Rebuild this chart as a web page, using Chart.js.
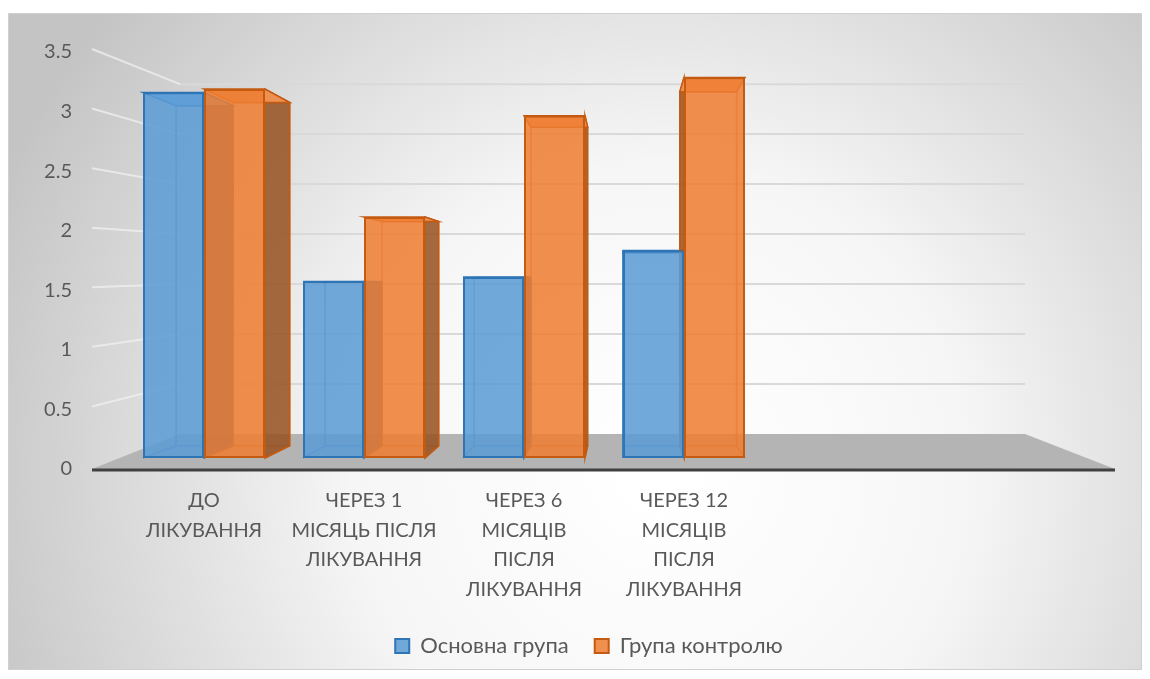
<!DOCTYPE html>
<html>
<head>
<meta charset="utf-8">
<script src="https://cdn.jsdelivr.net/npm/chart.js@4.4.0/dist/chart.umd.min.js"></script>
<style>
  html, body { margin: 0; padding: 0; background: #fff; }
</style>
</head>
<body>
<canvas id="myChart" width="1150" height="679"></canvas>
<script>
// two empty rows at the end of the source table leave blank space on the right
const categories = [
  ['ДО', 'ЛІКУВАННЯ'],
  ['ЧЕРЕЗ 1', 'МІСЯЦЬ ПІСЛЯ', 'ЛІКУВАННЯ'],
  ['ЧЕРЕЗ 6', 'МІСЯЦІВ', 'ПІСЛЯ', 'ЛІКУВАННЯ'],
  ['ЧЕРЕЗ 12', 'МІСЯЦІВ', 'ПІСЛЯ', 'ЛІКУВАННЯ'],
  '',
  ''
];
const mainGroup = [3.17, 1.53, 1.57, 1.8, null, null];
const controlGroup = [3.2, 2.09, 2.97, 3.3, null, null];
const seriesNames = ['Основна група', 'Група контролю'];
const yTicks = [0, 0.5, 1, 1.5, 2, 2.5, 3, 3.5];
const yTickLabels = ['0', '0.5', '1', '1.5', '2', '2.5', '3', '3.5'];

const FONT = 'Lato, "Noto Sans", sans-serif';
const TEXT = '#595959';

// fake 3D: walls, floor and the hidden faces of the bars
const depth = {
  id: 'depth',
  afterLayout(chart) {
    // legend is centred on the whole frame, not on the padded box
    chart.legend.left += 32;
    chart.legend.right += 32;
  },
  beforeDraw(chart) {
    const {ctx, chartArea: a, scales: {y}} = chart;
    ctx.save();
    ctx.fillStyle = '#fff';
    ctx.fillRect(0, 0, chart.width, chart.height);
    const g = ctx.createRadialGradient(660, 470, 30, 660, 470, 720);
    g.addColorStop(0, '#ffffff');
    g.addColorStop(0.4, '#f6f6f6');
    g.addColorStop(1, '#c4c4c4');
    ctx.fillStyle = g;
    ctx.fillRect(8, 13, 1134, 657);
    ctx.strokeStyle = '#d0d0d0';
    ctx.lineWidth = 1;
    ctx.strokeRect(8.5, 13.5, 1133, 656);

    const fl = a.left - 32, bl = a.left + 56, br = a.right - 59, fr = a.right + 31;
    const y0 = y.getPixelForValue(0);
    const back = v => (y0 - 35) - (y0 - y.getPixelForValue(v)) * 0.839;
    ctx.lineWidth = 2;
    yTicks.forEach(v => {
      if (v === 0) return;
      const fy = y.getPixelForValue(v) - 3, by = back(v);
      ctx.strokeStyle = 'rgba(240,240,240,0.75)';
      ctx.beginPath(); ctx.moveTo(fl, fy); ctx.lineTo(bl, by); ctx.stroke();
      ctx.strokeStyle = '#d9d9d9';
      ctx.beginPath(); ctx.moveTo(bl, by); ctx.lineTo(br, by); ctx.stroke();
    });
    // floor
    ctx.fillStyle = '#b4b4b4';
    ctx.beginPath();
    ctx.moveTo(fl, y0); ctx.lineTo(fr, y0); ctx.lineTo(br, back(0)); ctx.lineTo(bl, back(0));
    ctx.closePath(); ctx.fill();
    ctx.strokeStyle = '#404040';
    ctx.lineWidth = 3;
    ctx.beginPath(); ctx.moveTo(fl, y0 + 1); ctx.lineTo(fr, y0 + 1); ctx.stroke();
    ctx.restore();
  },
  beforeDatasetsDraw(chart) {
    const {ctx, chartArea: a} = chart;
    const vx = a.left + a.width * 0.52, vy = a.top + a.height * 0.553, k = 0.069;
    const s = (px, py) => [px + k * (vx - px), py + k * (vy - py)];
    ctx.save();
    chart.data.datasets.forEach((ds, i) => {
      const meta = chart.getDatasetMeta(i);
      meta.data.forEach((bar, j) => {
        if (ds.data[j] == null) return;
        const p = bar.getProps(['x', 'y', 'base', 'width'], true);
        const L = p.x - p.width / 2, R = p.x + p.width / 2, T = p.y, B = p.base;
        const [L2, T2] = s(L, T);
        const [R2, B2] = s(R, B);
        ctx.lineWidth = 1.5;
        ctx.strokeStyle = ds.edgeColor;
        // back face outline
        ctx.strokeRect(L2, T2, R2 - L2, B2 - T2);
        // side face
        ctx.fillStyle = ds.sideColor;
        ctx.beginPath();
        if (R < vx) {
          ctx.moveTo(R, T); ctx.lineTo(R2, T2); ctx.lineTo(R2, B2); ctx.lineTo(R, B);
        } else {
          ctx.moveTo(L, T); ctx.lineTo(L2, T2); ctx.lineTo(L2, B2); ctx.lineTo(L, B);
        }
        ctx.closePath(); ctx.fill();
        ctx.strokeStyle = ds.borderColor;
        ctx.stroke();
        // top face
        ctx.fillStyle = ds.topColor;
        ctx.beginPath();
        ctx.moveTo(L, T); ctx.lineTo(R, T); ctx.lineTo(R2, T2); ctx.lineTo(L2, T2);
        ctx.closePath(); ctx.fill(); ctx.stroke();
        // edges to the back
        ctx.strokeStyle = ds.edgeColor;
        ctx.beginPath();
        ctx.moveTo(L, B); ctx.lineTo(L2, B2);
        ctx.moveTo(R, B); ctx.lineTo(R2, B2);
        ctx.stroke();
      });
    });
    ctx.restore();
  }
};

const data = {
  labels: categories,
  datasets: [{
    label: seriesNames[0],
    data: mainGroup,
    yAxisID: 'y2',
    backgroundColor: 'rgba(91,155,213,0.86)',
    borderColor: '#2e75b6',
    sideColor: 'rgba(40,95,160,0.85)',
    topColor: 'rgba(120,175,225,0.9)',
    edgeColor: 'rgba(46,117,182,0.6)',
    borderWidth: 2,
    borderSkipped: false,
    barPercentage: 1,
    categoryPercentage: 0.7625
  }, {
    label: seriesNames[1],
    data: controlGroup,
    yAxisID: 'y2',
    backgroundColor: 'rgba(237,125,49,0.86)',
    borderColor: '#c55a11',
    sideColor: 'rgba(150,80,30,0.85)',
    topColor: 'rgba(245,150,85,0.9)',
    edgeColor: 'rgba(197,90,17,0.6)',
    borderWidth: 2,
    borderSkipped: false,
    barPercentage: 1,
    categoryPercentage: 0.7625
  }]
};

const config = {
  type: 'bar',
  data: data,
  plugins: [depth],
  options: {
    responsive: false,
    animation: false,
    layout: { padding: { top: 52, left: 30, right: 66, bottom: 12 } },
    plugins: {
      legend: {
        position: 'bottom',
        labels: {
          font: { family: FONT, size: 22 },
          color: TEXT,
          boxWidth: 14,
          boxHeight: 14,
          padding: 26
        }
      },
      tooltip: { enabled: true }
    },
    scales: {
      x: {
        grid: { display: false, drawTicks: false },
        border: { display: false },
        ticks: {
          font: { family: FONT, size: 20, lineHeight: 1.48 },
          color: TEXT,
          padding: 17,
          maxRotation: 0,
          autoSkip: false
        },
        afterFit(s) { s.height = 140; }
      },
      y: {
        position: 'left',
        min: 0,
        max: 3.5,
        grid: { display: false, drawTicks: false },
        border: { display: false },
        ticks: {
          stepSize: 0.5,
          font: { family: FONT, size: 20 },
          color: TEXT,
          padding: 52,
          callback: (v, i) => yTickLabels[i]
        },
        afterFit(s) {
          s.width = 94;
          s.paddingTop = 0;
          s.paddingBottom = 0;
        }
      },
      y2: {
        display: false,
        min: -0.0957,
        max: 3.522
      }
    }
  }
};

new Chart(document.getElementById('myChart').getContext('2d'), config);
</script>
</body>
</html>
